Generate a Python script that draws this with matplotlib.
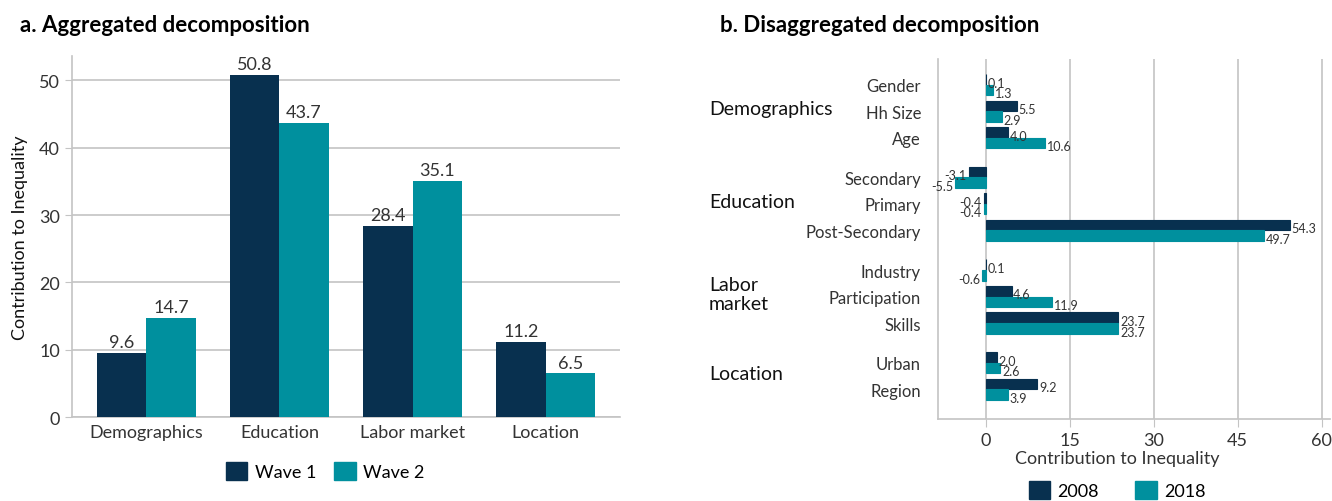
import matplotlib.pyplot as plt
from matplotlib.patches import Patch
from matplotlib.transforms import blended_transform_factory

plt.rcParams['font.family'] = ['Lato', 'DejaVu Sans']

# panel a
grupos = ['Demographics', 'Education', 'Labor market', 'Location']
wave1 = [9.6, 50.8, 28.4, 11.2]
wave2 = [14.7, 43.7, 35.1, 6.5]

# panel b
factores = ['Gender', 'Hh Size', 'Age', 'Secondary', 'Primary', 'Post-Secondary',
            'Industry', 'Participation', 'Skills', 'Urban', 'Region']
grupo_factor = [0, 0, 0, 1, 1, 1, 2, 2, 2, 3, 3]
nombres_grupo = ['Demographics', 'Education', 'Labor\nmarket', 'Location']
v2008 = [0.1, 5.5, 4.0, -3.1, -0.4, 54.3, 0.1, 4.6, 23.7, 2.0, 9.2]
v2018 = [1.3, 2.9, 10.6, -5.5, -0.4, 49.7, -0.6, 11.9, 23.7, 2.6, 3.9]

oscuro = '#08304f'
verde = '#00909e'
gris = '#c4c4c4'
texto = '#333333'

fig = plt.figure(figsize=(13.32, 5.02), dpi=100)

# ---------- a. Aggregated decomposition ----------
ax1 = fig.add_axes([0.054, 0.167, 0.4115, 0.719])
ancho = 0.37
x = range(len(grupos))
b1 = ax1.bar([i - ancho / 2 for i in x], wave1, ancho, color=oscuro, zorder=3)
b2 = ax1.bar([i + ancho / 2 for i in x], wave2, ancho, color=verde, zorder=3)
for barras in (b1, b2):
    for r in barras:
        ax1.text(r.get_x() + r.get_width() / 2, r.get_height() + 0.4,
                 f'{r.get_height():.1f}', ha='center', va='bottom',
                 fontsize=13, color=texto)
ax1.set_xlim(-0.56, 3.56)
ax1.set_ylim(0, 53.6)
ax1.set_yticks([0, 10, 20, 30, 40, 50])
ax1.set_xticks(list(x))
ax1.set_xticklabels(grupos)
ax1.yaxis.grid(True, color=gris, lw=1.2, zorder=0)
for s in ('top', 'right'):
    ax1.spines[s].set_visible(False)
for s in ('left', 'bottom'):
    ax1.spines[s].set_color(gris)
    ax1.spines[s].set_linewidth(1.2)
ax1.tick_params(axis='y', colors=gris, labelcolor=texto, labelsize=13, length=5)
ax1.tick_params(axis='x', length=0, labelcolor=texto, labelsize=13, pad=5)
ax1.set_ylabel('Contribution to Inequality', fontsize=13, color='#111111', labelpad=8)

fig.legend(handles=[Patch(color=oscuro, label='Wave 1'), Patch(color=verde, label='Wave 2')],
           loc='center', bbox_to_anchor=(325 / 1332, 1 - 472 / 502), ncol=2,
           frameon=False, fontsize=13, handlelength=1.2, handleheight=1.2,
           handletextpad=0.4, columnspacing=1.0)

fig.text(20 / 1332, 1 - 25 / 502, 'a. Aggregated decomposition', fontsize=16,
         fontweight='bold', va='center', ha='left')

# ---------- b. Disaggregated decomposition ----------
ax2 = fig.add_axes([0.704, 0.163, 0.2945, 0.717])
pos = [i + 0.5 * g for i, g in enumerate(grupo_factor)]
alto = 0.4
# borde fino para que las barras casi nulas (0.1) se vean
ax2.barh([p - alto / 2 for p in pos], v2008, alto, color=oscuro, zorder=3,
         edgecolor=oscuro, linewidth=0.8)
ax2.barh([p + alto / 2 for p in pos], v2018, alto, color=verde, zorder=3,
         edgecolor=verde, linewidth=0.8)
for serie, desp in ((v2008, -alto / 2), (v2018, alto / 2)):
    for p, v in zip(pos, serie):
        if v >= 0:
            ax2.text(v + 0.3, p + desp + 0.12, f'{v:.1f}', ha='left', va='center',
                     fontsize=9, color=texto)
        else:
            ax2.text(v - 0.3, p + desp + 0.12, f'{v:.1f}', ha='right', va='center',
                     fontsize=9, color=texto)
ax2.set_ylim(12.63, -0.96)
ax2.set_xlim(-8.6, 61.5)
ax2.set_xticks([0, 15, 30, 45, 60])
ax2.set_yticks(pos)
ax2.set_yticklabels(factores)
ax2.xaxis.grid(True, color=gris, lw=1.2, zorder=0)
for s in ('top', 'right'):
    ax2.spines[s].set_visible(False)
for s in ('left', 'bottom'):
    ax2.spines[s].set_color(gris)
    ax2.spines[s].set_linewidth(1.2)
ax2.tick_params(axis='y', length=0, labelcolor=texto, labelsize=12, pad=12)
ax2.tick_params(axis='x', colors=gris, labelcolor=texto, labelsize=13, length=6)
ax2.set_xlabel('Contribution to Inequality', fontsize=13, color=texto)
ax2.xaxis.set_label_coords(0.457, -0.085)

tr = blended_transform_factory(fig.transFigure, ax2.transData)
for g, nombre in enumerate(nombres_grupo):
    ps = [p for p, gg in zip(pos, grupo_factor) if gg == g]
    ax2.text(709 / 1332, sum(ps) / len(ps) - 0.1, nombre, transform=tr, ha='left',
             va='center', fontsize=14, color='#111111', linespacing=1.15)

fig.legend(handles=[Patch(color=oscuro, label='2008'), Patch(color=verde, label='2018')],
           loc='center', bbox_to_anchor=(1117 / 1332, 1 - 491 / 502), ncol=2,
           frameon=False, fontsize=13, handlelength=1.2, handleheight=1.2,
           handletextpad=0.4, columnspacing=2.0)

fig.text(720 / 1332, 1 - 25 / 502, 'b. Disaggregated decomposition', fontsize=16,
         fontweight='bold', va='center', ha='left')

plt.savefig('out.png', dpi=100)
